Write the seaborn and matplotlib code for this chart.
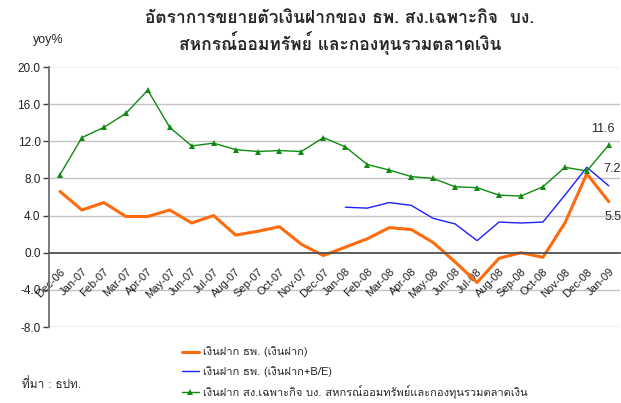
import matplotlib
matplotlib.use('Agg')
import matplotlib.pyplot as plt
import seaborn as sns
import numpy as np
import pandas as pd
from matplotlib import font_manager, ft2font

months = ['Dec-06', 'Jan-07', 'Feb-07', 'Mar-07', 'Apr-07', 'May-07', 'Jun-07', 'Jul-07',
          'Aug-07', 'Sep-07', 'Oct-07', 'Nov-07', 'Dec-07', 'Jan-08', 'Feb-08', 'Mar-08',
          'Apr-08', 'May-08', 'Jun-08', 'Jul-08', 'Aug-08', 'Sep-08', 'Oct-08', 'Nov-08',
          'Dec-08', 'Jan-09']
bank_deposits = [6.6, 4.6, 5.4, 3.9, 3.9, 4.6, 3.2, 4.0, 1.9, 2.3, 2.8, 0.9, -0.3,
                 0.6, 1.5, 2.7, 2.5, 1.1, -1.0, -3.2, -0.6, 0.0, -0.5, 3.2, 8.5, 5.5]
bank_deposits_be = [np.nan] * 13 + [4.9, 4.8, 5.4, 5.1, 3.7, 3.1, 1.3, 3.3, 3.2, 3.3,
                                     6.2, 9.2, 7.2]
sfi_deposits = [8.4, 12.4, 13.5, 15.0, 17.5, 13.5, 11.5, 11.8, 11.1, 10.9, 11.0, 10.9,
                12.4, 11.4, 9.5, 8.9, 8.2, 8.0, 7.1, 7.0, 6.2, 6.1, 7.1, 9.2, 8.8, 11.6]
y_ticks = [-8, -4, 0, 4, 8, 12, 16, 20]

title_text = 'อัตราการขยายตัวเงินฝากของ ธพ. สง.เฉพาะกิจ  บง.\nสหกรณ์ออมทรัพย์ และกองทุนรวมตลาดเงิน'
legend_labels = ['เงินฝาก ธพ. (เงินฝาก)', 'เงินฝาก ธพ. (เงินฝาก+B/E)',
                 'เงินฝาก สง.เฉพาะกิจ บง. สหกรณ์ออมทรัพย์และกองทุนรวมตลาดเงิน']
source_text = 'ที่มา : ธปท.'

sns.set_style('white')


def find_thai_fonts():
    names = []
    for f in font_manager.fontManager.ttflist:
        try:
            ft = ft2font.FT2Font(f.fname)
            if ft.get_char_index(0x0E01) and f.name not in names:
                names.append(f.name)
        except Exception:
            pass
    return names

thai = find_thai_fonts()
preferred = [n for n in ['Loma', 'Garuda', 'Tlwg Typo', 'Sarabun'] if n in thai]
thai_font = preferred[:1] or thai[:1]
base = 'Liberation Sans'
plt.rcParams['font.family'] = [base] + thai_font + ['DejaVu Sans']
thai_fams = thai_font + [base, 'DejaVu Sans']

fig = plt.figure(figsize=(6.21, 4.03), dpi=100)
ax = fig.add_axes([49 / 621, 1 - 327 / 403, 1 - 49 / 621 - 0.002, (327 - 67) / 403])

df = pd.DataFrame({'idx': np.arange(len(months)), 'bank': bank_deposits,
                   'bank_be': bank_deposits_be, 'sfi': sfi_deposits})

sns.lineplot(data=df, x='idx', y='bank', ax=ax, color='#FF6A0D', lw=2.2,
             label=legend_labels[0])
sns.lineplot(data=df.dropna(subset=['bank_be']), x='idx', y='bank_be', ax=ax,
             color='#1F1FFF', lw=1.0, label=legend_labels[1])
sns.lineplot(data=df, x='idx', y='sfi', ax=ax, color='#108A10', lw=1.0, marker='^',
             markersize=5, markeredgewidth=0, label=legend_labels[2])

ax.spines['top'].set_visible(False)
ax.spines['right'].set_visible(False)
ax.spines['bottom'].set_position(('data', 0))
ax.spines['bottom'].set_color('#505050')
ax.spines['bottom'].set_linewidth(1.3)
ax.spines['left'].set_color('#707070')
ax.spines['left'].set_linewidth(1.3)
ax.set_xlabel('')
ax.set_ylabel('')

ax.set_xlim(-0.5, len(months) - 0.5)
ax.set_ylim(-8, 20)
ax.set_yticks(y_ticks)
ax.set_yticklabels([f'{v:.1f}' for v in y_ticks], fontsize=8.5, color='#202020')
for v in y_ticks:
    if v in (20, -8):
        ax.axhline(v, color='#ececec', lw=1.2, zorder=0)
    elif v != 0:
        ax.axhline(v, color='#c4c4c4', lw=1.0, zorder=0)

ax.set_xticks(np.arange(len(months) + 1) - 0.5, minor=True)
ax.tick_params(axis='x', which='minor', length=4, color='#404040', width=1)
ax.set_xticks(np.arange(len(months)))
ax.set_xticklabels(months, fontsize=8, color='#202020')
ax.tick_params(axis='x', which='major', length=0, pad=10)
for lbl in ax.get_xticklabels():
    lbl.set_rotation(45)
    lbl.set_rotation_mode('anchor')
    lbl.set_ha('right')
    lbl.set_va('top')
ax.tick_params(axis='y', length=4, color='#404040', width=1, pad=2, left=True)

n = len(months) - 1
ax.annotate(f'{sfi_deposits[-1]:.1f}', (n, sfi_deposits[-1]), xytext=(-4.5, 7),
            textcoords='offset points', ha='center', va='bottom', fontsize=9)
ax.annotate(f'{bank_deposits_be[-1]:.1f}', (n, bank_deposits_be[-1]), xytext=(-4, 8),
            textcoords='offset points', ha='left', va='bottom', fontsize=9,
            annotation_clip=False)
ax.annotate(f'{bank_deposits[-1]:.1f}', (n, bank_deposits[-1]), xytext=(-3, -11),
            textcoords='offset points', ha='left', va='center', fontsize=9,
            annotation_clip=False)

leg = ax.legend(loc='upper left', bbox_to_anchor=(176 / 621, 1 - 341 / 403),
                bbox_transform=fig.transFigure, frameon=False,
                prop={'family': thai_fams, 'size': 8},
                handlelength=1.6, handletextpad=0.35, labelspacing=0.75, borderpad=0)

fig.text(340 / 621, 1 - 11 / 403, title_text, ha='center', va='top', fontsize=12.5,
         fontweight='bold', linespacing=1.25, family=thai_fams)
fig.text(48 / 621, 1 - 40 / 403, 'yoy%', ha='center', va='center', fontsize=9)
fig.text(22 / 621, 1 - 384 / 403, source_text, ha='left', va='center', fontsize=8.5,
         family=thai_fams)

fig.savefig('out.png', dpi=100)
